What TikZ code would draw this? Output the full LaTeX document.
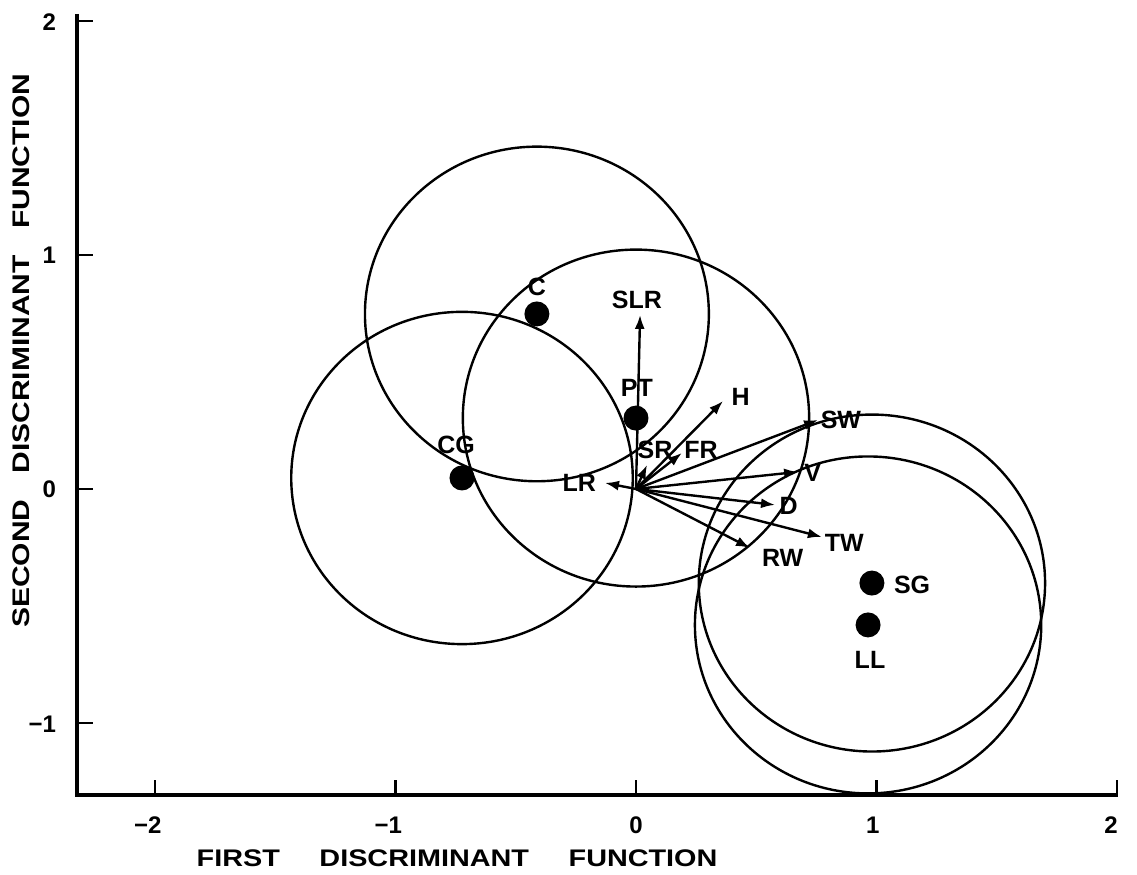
\documentclass[tikz,border=0pt]{standalone}
\usepackage{fontspec}
\setmainfont{Liberation Sans}
\usetikzlibrary{arrows.meta}
\begin{document}
\begin{tikzpicture}[x=120.25pt,y=117pt,
  axis/.style={line width=2pt},
  ring/.style={line width=1.2pt},
  vec/.style={line width=1.2pt,-{Latex[length=7pt,width=5pt]}},
  dot/.style={circle,fill=black,inner sep=0pt,minimum size=12.5pt},
  lbl/.style={font=\bfseries\fontsize{12.5}{14}\selectfont,inner sep=0pt},
  ticklbl/.style={font=\bfseries\fontsize{12}{14}\selectfont,inner sep=0pt},
  tickmark/.style={line width=1.2pt},
  ttl/.style={font=\bfseries\fontsize{12}{14}\selectfont,inner sep=0pt}]
\useasboundingbox (-2.6445,-1.6496) rectangle (2.0832,2.0897);
% axes
\draw[axis] (-2.324,2.03) -- (-2.324,-1.308) -- (2.004,-1.308);
\foreach \t in {-2,-1,0,1,2} \draw[tickmark] (\t,-1.308) -- (\t,-1.244);
\foreach \t in {-1,0,1,2} \draw[tickmark] (-2.324,\t) -- (-2.258,\t);
% tick labels
\node[ticklbl] (xm2) at (-2.03,-1.436) {−2};
\node[ticklbl] (xm1) at (-1.03,-1.436) {−1};
\node[ticklbl] (x0) at (0,-1.436) {0};
\node[ticklbl] (x1) at (0.985,-1.436) {1};
\node[ticklbl] (x2) at (1.975,-1.436) {2};
\node[ticklbl,anchor=east] (y2) at (-2.41,1.995) {2};
\node[ticklbl,anchor=east] (y1) at (-2.41,1.0) {1};
\node[ticklbl,anchor=east] (y0) at (-2.41,0) {0};
\node[ticklbl,anchor=east] (ym1) at (-2.41,-1.005) {−1};
% axis titles
\node[ttl] (xt) at (-0.744,-1.577) {\scalebox{1.2}[1]{FIRST\hspace{16.5pt}DISCRIMINANT\hspace{16.5pt}FUNCTION}};
\node[ttl,rotate=90] (yt) at (-2.555,0.59) {\scalebox{1.25}[1]{SECOND\hspace{10.5pt}DISCRIMINANT\hspace{10.5pt}FUNCTION}};
% group centroids
\node[dot] (C) at (-0.412,0.748) {};
\node[dot] (PT) at (0,0.303) {};
\node[dot] (CG) at (-0.7235,0.047) {};
\node[dot] (SG) at (0.981,-0.402) {};
\node[dot] (LL) at (0.965,-0.581) {};
\node[lbl] (Cl) at (-0.412,0.863) {C};
\node[lbl] (PTl) at (0.004,0.431) {PT};
\node[lbl] (CGl) at (-0.748,0.188) {CG};
\node[lbl] (SGl) at (1.148,-0.410) {SG};
\node[lbl] (LLl) at (0.973,-0.731) {LL};
% confidence circles
\draw[ring] (C.center) circle (0.715);
\draw[ring] (PT.center) circle (0.72);
\draw[ring] (CG.center) circle (0.71);
\draw[ring] (SG.center) circle (0.72);
\draw[ring] (LL.center) circle (0.72);
% vectors
\coordinate (O) at (0,0);
\coordinate (tSLR) at (0.017,0.744);
\coordinate (tH) at (0.362,0.376);
\coordinate (tSW) at (0.757,0.295);
\coordinate (tFR) at (0.191,0.154);
\coordinate (tSR) at (0.046,0.103);
\coordinate (tLR) at (-0.129,0.026);
\coordinate (tV) at (0.674,0.073);
\coordinate (tD) at (0.578,-0.068);
\coordinate (tTW) at (0.773,-0.205);
\coordinate (tRW) at (0.474,-0.252);
\foreach \v in {SLR,H,SW,FR,SR,LR,V,D,TW,RW} \draw[vec] (O) -- (t\v);
\node[lbl] (SLRl) at (0.004,0.808) {SLR};
\node[lbl] (Hl) at (0.435,0.393) {H};
\node[lbl] (SWl) at (0.852,0.295) {SW};
\node[lbl] (FRl) at (0.27,0.167) {FR};
\node[lbl] (SRl) at (0.079,0.167) {SR};
\node[lbl] (LRl) at (-0.236,0.026) {LR};
\node[lbl] (Vl) at (0.735,0.068) {V};
\node[lbl] (Dl) at (0.635,-0.073) {D};
\node[lbl] (TWl) at (0.866,-0.231) {TW};
\node[lbl] (RWl) at (0.61,-0.295) {RW};
\end{tikzpicture}
\end{document}
